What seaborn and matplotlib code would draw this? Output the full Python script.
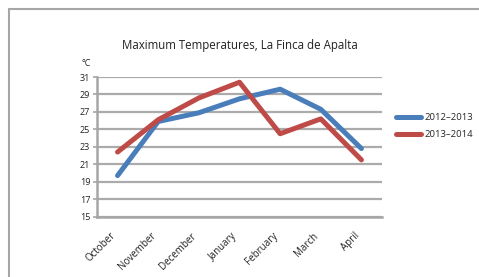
import matplotlib
matplotlib.use('Agg')
import matplotlib.pyplot as plt
import seaborn as sns
import pandas as pd
from matplotlib.lines import Line2D

# data
months = ['October', 'November', 'December', 'January', 'February', 'March', 'April']
season_2012 = [19.7, 25.9, 26.9, 28.5, 29.6, 27.3, 22.8]
season_2013 = [22.4, 26.1, 28.6, 30.4, 24.5, 26.2, 21.5]
series_names = ['2012\u20132013', '2013\u20132014']
y_ticks = [15, 17, 19, 21, 23, 25, 27, 29, 31]

df = pd.DataFrame({
    'month': months * 2,
    'pos': list(range(len(months))) * 2,
    'temp': season_2012 + season_2013,
    'season': [series_names[0]] * len(months) + [series_names[1]] * len(months),
})

sns.set_style('white')
plt.rcParams['font.family'] = ['Open Sans', 'DejaVu Sans']

colors = ['#4a7ebb', '#be4b48']
fig = plt.figure(figsize=(4.79, 2.77), dpi=100)
ax = fig.add_axes([0.203, 0.218, 0.594, 0.504])

sns.lineplot(data=df, x='pos', y='temp', hue='season', palette=colors,
             linewidth=3.6, ax=ax, legend=False, zorder=3)

ax.set_xlim(-0.5, len(months) - 0.5)
ax.set_ylim(15, 31)
ax.set_yticks(y_ticks)
ax.set_yticklabels([str(t) for t in y_ticks], fontsize=6.5, color='#222222')
ax.yaxis.grid(True, color='#ababab', linewidth=1.6, zorder=0)
ax.set_xticks(range(len(months)))
# slanted month labels whose right edge sits at the category centre
ax.set_xticklabels(months, rotation=45, ha='right', fontsize=7, color='#222222')
ax.set_xticks([i - 0.5 for i in range(len(months) + 1)], minor=True)
ax.tick_params(axis='x', which='major', length=0, pad=10)
ax.tick_params(axis='x', which='minor', length=3, color='#a6a6a6', width=1.2)
ax.tick_params(axis='y', length=3, color='#a6a6a6', width=1.2, pad=2, left=True)
ax.set_xlabel('')
ax.set_ylabel('')
for side in ['top', 'right']:
    ax.spines[side].set_visible(False)
for side in ['left', 'bottom']:
    ax.spines[side].set_color('#a6a6a6')
    ax.spines[side].set_linewidth(1.8)

ax.set_title('Maximum Temperatures, La Finca de Apalta', fontsize=8.3, pad=20, color='#222222')
ax.text(-0.04, 1.1, '\u00b0C', transform=ax.transAxes, fontsize=6.5,
        ha='center', va='center', color='#222222')

handles = [Line2D([0], [0], color=c, linewidth=3.6, solid_capstyle='round') for c in colors]
fig.legend(handles, series_names, loc='center left', bbox_to_anchor=(0.81, 0.545),
           frameon=False, fontsize=6.8, handlelength=2.6, labelspacing=0.8,
           handletextpad=0.4)

# outer chart frame
fig.add_artist(Line2D([9 / 479, 1], [1 - 9 / 277, 1 - 9 / 277], color='#a6a6a6',
                      linewidth=1.5, transform=fig.transFigure))
fig.add_artist(Line2D([9 / 479, 9 / 479], [0, 1 - 9 / 277], color='#a6a6a6',
                      linewidth=1.5, transform=fig.transFigure))

fig.savefig('out.png', dpi=100)
